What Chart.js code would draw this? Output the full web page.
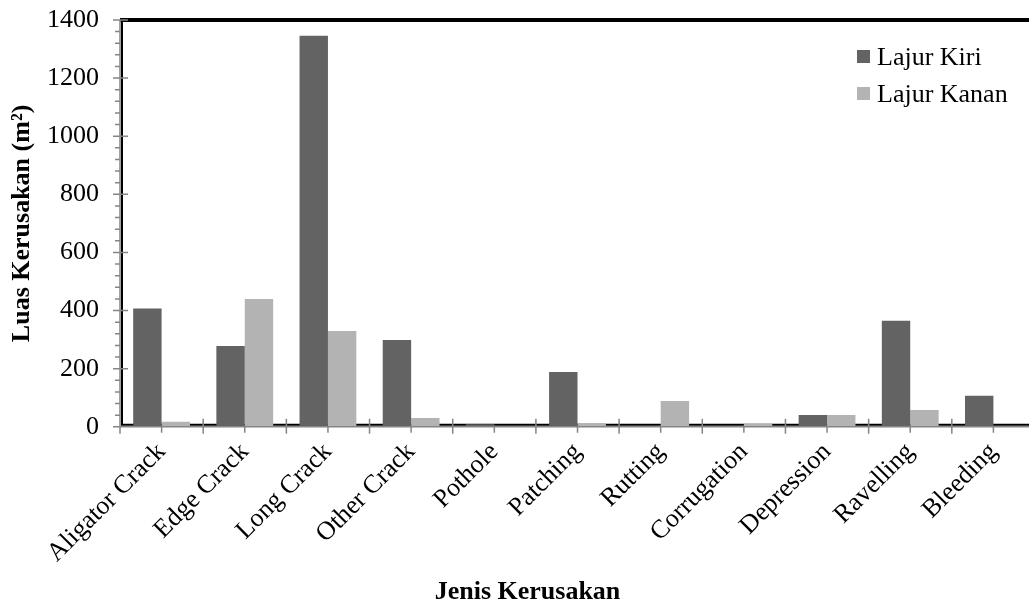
<!DOCTYPE html>
<html>
<head>
<meta charset="utf-8">
<title>Luas Kerusakan</title>
<script src="https://cdn.jsdelivr.net/npm/chart.js@4.4.1/dist/chart.umd.min.js"></script>
<style>
  html, body { margin: 0; padding: 0; overflow: hidden; background: #fff; }
  #wrap { width: 1040px; height: 608px; }
</style>
</head>
<body>
<div id="wrap"><canvas id="grafik"></canvas></div>
<script>
// data
const categories = ['Aligator Crack', 'Edge Crack', 'Long Crack', 'Other Crack', 'Pothole',
  'Patching', 'Rutting', 'Corrugation', 'Depression', 'Ravelling', 'Bleeding'];
const lajurKiri = [407, 278, 1346, 299, 9, 189, 1, 2, 41, 365, 107];
const lajurKanan = [17, 440, 330, 30, 2, 12, 89, 10, 41, 58, 0];
const yTicks = [0, 200, 400, 600, 800, 1000, 1200, 1400];
const minorStep = 40;

const serif = '"Liberation Serif", "Times New Roman", serif';
const fontSize = 26;

// frame, gray axes, major/minor ticks and the legend inside the plot
const axisDecor = {
  id: 'axisDecor',
  beforeDatasetsDraw(chart) {
    const { ctx, chartArea: a } = chart;
    ctx.save();
    ctx.strokeStyle = '#000';
    ctx.lineWidth = 4;
    ctx.beginPath();
    ctx.moveTo(a.left, a.top);
    ctx.lineTo(a.right, a.top);
    ctx.stroke();
    ctx.lineWidth = 2;
    ctx.beginPath();
    ctx.moveTo(a.left + 2, a.top);
    ctx.lineTo(a.left + 2, a.bottom - 2);
    ctx.lineTo(a.right, a.bottom - 2);
    ctx.stroke();
    ctx.restore();
  },
  afterDatasetsDraw(chart) {
    const { ctx, chartArea: a, scales: { x, y } } = chart;
    const yMax = yTicks[yTicks.length - 1];
    ctx.save();
    ctx.strokeStyle = '#858585';
    ctx.lineWidth = 1.5;
    ctx.beginPath();
    ctx.moveTo(a.left, a.top);
    ctx.lineTo(a.left, a.bottom);
    ctx.lineTo(a.right, a.bottom);
    for (let v = 0; v <= yMax; v += minorStep) {
      const py = y.getPixelForValue(v);
      const major = yTicks.includes(v);
      ctx.moveTo(a.left - (major ? 7 : 5), py);
      ctx.lineTo(a.left + (major ? 8 : 0), py);
    }
    const w = x.getPixelForValue(1) - x.getPixelForValue(0);
    categories.forEach((c, i) => {
      const cx = x.getPixelForValue(i);
      ctx.moveTo(cx - w / 2, a.bottom - 8);
      ctx.lineTo(cx - w / 2, a.bottom + 7);
      ctx.moveTo(cx, a.bottom);
      ctx.lineTo(cx, a.bottom + 6);
    });
    ctx.moveTo(a.right, a.bottom - 8);
    ctx.lineTo(a.right, a.bottom + 7);
    ctx.stroke();

    // legend
    ctx.font = fontSize + 'px ' + serif;
    ctx.textBaseline = 'alphabetic';
    ctx.textAlign = 'left';
    chart.data.datasets.forEach((ds, i) => {
      const lx = a.right - 178;
      const ly = a.top + 30 + i * 37;
      ctx.fillStyle = ds.backgroundColor;
      ctx.fillRect(lx, ly, 13, 13);
      ctx.fillStyle = '#000';
      ctx.fillText(ds.label, lx + 20, ly + 15);
    });
    ctx.restore();
  }
};

const ctx = document.getElementById('grafik');
new Chart(ctx, {
  type: 'bar',
  data: {
    labels: categories,
    datasets: [
      { label: 'Lajur Kiri', data: lajurKiri, backgroundColor: '#636363' },
      { label: 'Lajur Kanan', data: lajurKanan, backgroundColor: '#b3b3b3' }
    ]
  },
  options: {
    responsive: true,
    maintainAspectRatio: false,
    animation: false,
    layout: { padding: { left: 20, top: 20, right: 5, bottom: 0 } },
    datasets: {
      bar: { categoryPercentage: 0.683, barPercentage: 1.0, borderWidth: 0 }
    },
    plugins: {
      legend: { display: false },
      tooltip: { enabled: false },
      title: {
        display: true,
        position: 'bottom',
        text: 'Jenis Kerusakan',
        color: '#000',
        font: { family: serif, size: fontSize, weight: 'bold' },
        padding: { top: 0, bottom: 0 }
      }
    },
    scales: {
      x: {
        grid: { display: false, drawTicks: false },
        border: { display: false },
        ticks: {
          color: '#000',
          font: { family: serif, size: fontSize },
          minRotation: 45,
          maxRotation: 45,
          autoSkip: false,
          padding: 10
        },
        afterFit: s => { s.height = 150; }
      },
      y: {
        min: 0,
        max: 1400,
        grid: { display: false, drawTicks: false },
        border: { display: false },
        ticks: {
          stepSize: 200,
          color: '#000',
          font: { family: serif, size: fontSize },
          padding: 21,
          callback: v => String(v)
        },
        title: {
          display: true,
          text: 'Luas Kerusakan (m²)',
          color: '#000',
          font: { family: serif, size: fontSize, weight: 'bold' },
          padding: { top: -13, bottom: 0 }
        },
        afterFit: s => {
          s.width = 100;
          s.paddingTop = 0;
          s.paddingBottom = 0;
        }
      }
    }
  },
  plugins: [axisDecor]
});
</script>
</body>
</html>
